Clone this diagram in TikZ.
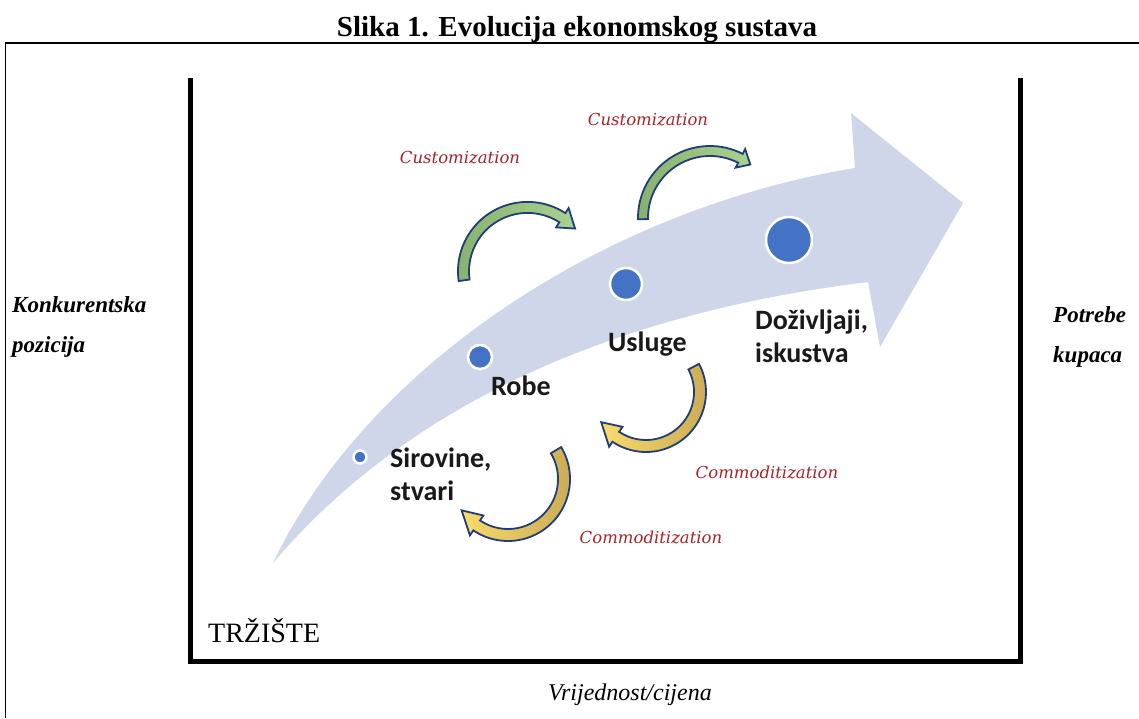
\documentclass[tikz,border=0pt]{standalone}
\usepackage{fontspec}
\setmainfont{Liberation Serif}
\newfontfamily\stagesans{Carlito}
\newfontfamily\slabserif{DejaVu Serif}
\usetikzlibrary{calc}

\definecolor{flowfill}{HTML}{CFD6EA}
\definecolor{dotblue}{HTML}{4472C4}
\definecolor{rimblue}{HTML}{1F3D7A}
\definecolor{leaflight}{HTML}{AAD18F}
\definecolor{leafdark}{HTML}{88B16E}
\definecolor{goldlight}{HTML}{F8DA6C}
\definecolor{golddark}{HTML}{C8A953}
\definecolor{labelred}{HTML}{A8222A}

% bent block arrow: #1,#2 centre, #3 mid radius, #4 half band width,
% #5 tail angle, #6 angle of the head base, #7 tip angle, #8 barb overhang, #9 style
\newcommand{\bentarrow}[9]{%
  \pgfmathsetmacro{\ro}{#3+#4}%
  \pgfmathsetmacro{\ri}{#3-#4}%
  \pgfmathsetmacro{\bo}{#3+#4+#8}%
  \pgfmathsetmacro{\bi}{#3-#4-#8}%
  \draw[#9, shift={(#1,#2)}]
    (#5:\ro) arc[start angle=#5, end angle=#6, radius=\ro]
    -- (#6:\bo) -- (#7:#3) -- (#6:\bi) -- (#6:\ri)
    arc[start angle=#6, end angle=#5, radius=\ri] -- cycle;}

\tikzset{
  frameline/.style={line width=1.6pt},
  marketline/.style={line width=5pt, line join=miter, line cap=rect},
  stagedot/.style={circle, draw=white, line width=2.5pt, fill=dotblue, inner sep=0pt},
  stagetext/.style={font=\stagesans\bfseries\fontsize{28}{33}\selectfont, align=left, inner sep=0pt, text=black!90},
  processtext/.style={font=\slabserif\itshape\fontsize{16.5}{19}\selectfont, text=labelred, inner sep=0pt},
  axistext/.style={font=\bfseries\itshape\fontsize{23}{40}\selectfont, align=left, inner sep=0pt},
  custarrow/.style={draw=rimblue, line width=1.8pt, line join=miter, left color=leafdark, right color=leaflight},
  commarrow/.style={draw=rimblue, line width=1.8pt, line join=miter, left color=goldlight, right color=golddark},
}

\begin{document}
\begin{tikzpicture}[x=1pt, y=1pt, yscale=-1]
\useasboundingbox (0,0) rectangle (1139,718);

% caption
\node[anchor=base, font=\bfseries\fontsize{29}{34}\selectfont, inner sep=0pt] (title) at (577,36) {Slika 1. Evolucija ekonomskog sustava};

% outer frame
\draw[frameline] (5.5,718) -- (5.5,43) -- (1139,43);

% market box
\draw[marketline] (190,80) -- (190,661) -- (1020,661) -- (1020,80);

% rising flow arrow
\fill[flowfill] (273,563) .. controls (365,370) and (600,210) .. (855,168)
  -- (851,113) -- (963,203) -- (880,347) -- (868,282)
  .. controls (640,310) and (420,390) .. (273,563) -- cycle;

% bent arrows
\bentarrow{527.5}{271.4}{64}{5.5}{172}{303}{318}{6}{custarrow}
\bentarrow{710}{218}{67}{5}{179}{297}{307}{5.5}{custarrow}
\bentarrow{646}{392}{54}{6}{-28}{124}{146}{6}{commarrow}
\bentarrow{508}{479}{56}{6}{-31}{124}{146}{6}{commarrow}

% stages
\node[stagedot, minimum size=13pt] (s1) at (360,457) {};
\node[stagedot, minimum size=24pt] (s2) at (480,357) {};
\node[stagedot, minimum size=32pt] (s3) at (626,284) {};
\node[stagedot, minimum size=46pt] (s4) at (789,240) {};

% multi-line nodes sit on the baseline of their last line
\node[stagetext, anchor=base west] (t1) at (390,500) {Sirovine,\\stvari};
\node[stagetext, anchor=base west] (t2) at (491,395) {Robe};
\node[stagetext, anchor=base west] (t3) at (608,351) {Usluge};
\node[stagetext, anchor=base west] (t4) at (755,362) {Doživljaji,\\iskustva};

% process labels
\node[processtext] (c1) at (460,158) {Customization};
\node[processtext] (c2) at (648,120) {Customization};
\node[processtext] (m1) at (767,472) {Commoditization};
\node[processtext] (m2) at (651,537) {Commoditization};

% axis labels
\node[axistext, anchor=base west] (yl) at (12,352) {Konkurentska\\pozicija};
\node[axistext, anchor=base west] (yr) at (1053,362) {Potrebe\\kupaca};
\node[anchor=base west, font=\fontsize{28}{32}\selectfont, inner sep=0pt] (market) at (208,642) {TRŽIŠTE};
\node[anchor=base, font=\itshape\fontsize{24}{28}\selectfont, inner sep=0pt] (xl) at (630,700) {Vrijednost/cijena};
\end{tikzpicture}
\end{document}
